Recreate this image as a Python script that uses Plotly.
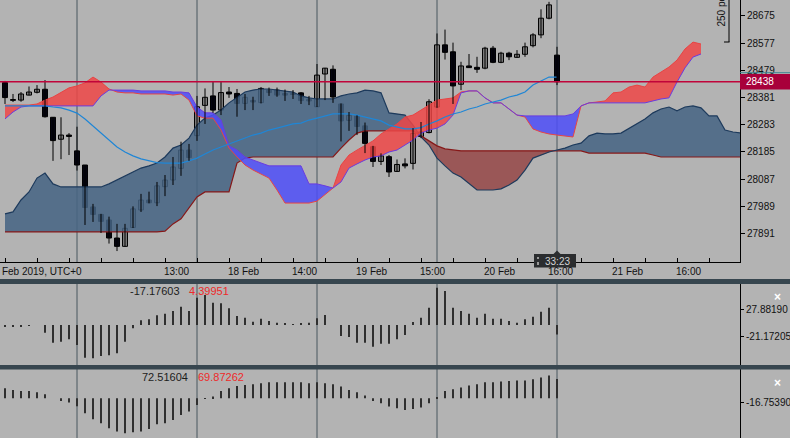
import plotly.graph_objects as go

W, H = 790, 438
BG = "#b3b3b3"
FONT = "Liberation Sans, Arial, sans-serif"

# ---------------- data ----------------
bar_idx = list(range(70))
opens = [28435, 28374, 28372, 28390, 28400, 28411, 28310, 28231, 28246, 28189,
         28138, 27987, 27960, 27940, 27875, 27845, 27913, 27976, 28012, 28002,
         28060, 28084, 28126, 28192, 28244, 28353, 28387, 28336, 28401, 28396,
         28360, 28371, 28363, 28408, 28408, 28396, 28396, 28398, 28374, 28348,
         28466, 28483, 28358, 28299, 28315, 28279, 28204, 28151, 28168, 28115,
         28142, 28144, 28241, 28255, 28347, 28571, 28546, 28429, 28495, 28490,
         28487, 28559, 28508, 28541, 28526, 28537, 28568, 28607, 28667, 28534]
highs = [28441, 28394, 28401, 28421, 28426, 28444, 28311, 28310, 28253, 28276,
         28138, 27998, 27962, 27952, 27926, 27926, 27989, 28034, 28042, 28077,
         28102, 28167, 28222, 28214, 28387, 28414, 28437, 28437, 28419, 28412,
         28394, 28384, 28419, 28417, 28417, 28410, 28408, 28401, 28387, 28502,
         28488, 28497, 28360, 28329, 28317, 28291, 28207, 28180, 28174, 28158,
         28162, 28271, 28293, 28375, 28612, 28626, 28579, 28510, 28538, 28528,
         28564, 28567, 28546, 28546, 28552, 28579, 28613, 28699, 28726, 28564]
lows = [28358, 28365, 28366, 28389, 28396, 28309, 28153, 28159, 28174, 28118,
        27922, 27933, 27893, 27855, 27828, 27843, 27911, 27969, 28000, 27990,
        28026, 28066, 28099, 28153, 28225, 28286, 28326, 28318, 28380, 28312,
        28336, 28336, 28360, 28387, 28384, 28369, 28376, 28358, 28354, 28347,
        28372, 28362, 28223, 28261, 28246, 28181, 28131, 28138, 28095, 28113,
        28126, 28122, 28235, 28252, 28344, 28518, 28358, 28408, 28488, 28470,
        28483, 28505, 28505, 28516, 28525, 28528, 28562, 28595, 28663, 28426]
closes = [28381, 28371, 28394, 28401, 28411, 28312, 28226, 28246, 28241, 28138,
          27985, 27960, 27935, 27875, 27845, 27910, 27980, 28012, 28002, 28063,
          28084, 28131, 28192, 28165, 28348, 28382, 28336, 28399, 28394, 28360,
          28382, 28365, 28414, 28399, 28390, 28390, 28392, 28370, 28369, 28462,
          28487, 28383, 28297, 28317, 28277, 28216, 28151, 28171, 28113, 28140,
          28135, 28252, 28257, 28366, 28571, 28544, 28423, 28495, 28489, 28483,
          28559, 28508, 28541, 28528, 28537, 28564, 28607, 28667, 28715, 28438]

moving_avg = [28351, 28351, 28351, 28351, 28351, 28351, 28347, 28344, 28336, 28325,
              28304, 28279, 28253, 28228, 28203, 28185, 28171, 28160, 28153, 28147,
              28145, 28145, 28145, 28153, 28163, 28178, 28192, 28203, 28214, 28225,
              28235, 28246, 28253, 28264, 28271, 28279, 28286, 28289, 28300, 28307,
              28315, 28322, 28322, 28322, 28318, 28311, 28304, 28297, 28282, 28275,
              28268, 28268, 28273, 28286, 28297, 28311, 28322, 28329, 28340, 28347,
              28358, 28365, 28372, 28383, 28390, 28401, 28426, 28441, 28455, 28455]

# upper (red / blue) cloud
span_a = [28354, 28354, 28354, 28354, 28358, 28372, 28383, 28401, 28416, 28423,
          28434, 28455, 28437, 28412, 28401, 28398, 28398, 28394, 28394, 28394,
          28394, 28390, 28394, 28372, 28315, 28307, 28307, 28264, 28199, 28167,
          28138, 28120, 28106, 28091, 28048, 28001, 28001, 28001, 28001, 28008,
          28030, 28055, 28138, 28174, 28192, 28207, 28225, 28250, 28268, 28286,
          28311, 28318, 28336, 28354, 28372, 28376, 28380, 28401, 28405, 28405,
          28380, 28362, 28362, 28340, 28318, 28311, 28268, 28257, 28250, 28246,
          28243, 28239, 28351, 28362, 28365, 28369, 28398, 28401, 28419, 28426,
          28419, 28455, 28473, 28491, 28516, 28556, 28581, 28574]
span_b = [28304, 28329, 28347, 28351, 28351, 28351, 28351, 28351, 28351, 28351,
          28351, 28351, 28387, 28408, 28408, 28408, 28408, 28405, 28405, 28405,
          28405, 28401, 28401, 28398, 28347, 28326, 28326, 28300, 28207, 28192,
          28167, 28156, 28145, 28135, 28135, 28135, 28135, 28135, 28070, 28070,
          28063, 28055, 28077, 28127, 28142, 28156, 28167, 28171, 28185, 28192,
          28210, 28228, 28253, 28264, 28271, 28286, 28318, 28398, 28405, 28405,
          28380, 28362, 28362, 28340, 28318, 28315, 28315, 28315, 28315, 28315,
          28315, 28322, 28351, 28362, 28362, 28362, 28362, 28362, 28362, 28362,
          28362, 28369, 28376, 28380, 28437, 28488, 28527, 28538]

# lower (steel / brown) cloud
cloud_c = [27962, 27969, 28012, 28041, 28091, 28109, 28070, 28059, 28059, 28059,
           28059, 28059, 28059, 28070, 28084, 28099, 28113, 28127, 28135, 28145,
           28167, 28199, 28210, 28235, 28282, 28307, 28318, 28336, 28362, 28383,
           28401, 28408, 28412, 28412, 28408, 28405, 28401, 28387, 28380, 28376,
           28376, 28376, 28387, 28394, 28398, 28408, 28405, 28398, 28326, 28322,
           28318, 28282, 28239, 28210, 28163, 28135, 28109, 28095, 28073, 28048,
           28048, 28048, 28052, 28066, 28084, 28120, 28163, 28174, 28185, 28192,
           28199, 28210, 28217, 28243, 28253, 28250, 28250, 28253, 28271, 28289,
           28304, 28326, 28340, 28347, 28333, 28347, 28351, 28344, 28315, 28315,
           28264, 28257, 28253]
cloud_d = [27897] * 20 + [27900, 27926, 27944, 27983, 28023, 28041, 28041, 28041, 28041,
           28145, 28163] + [28167] * 11 + [28199, 28228, 28253] + [28261] * 7 + \
          [28243, 28225, 28207, 28196, 28192] + [28189] * 16 + [28181] * 8 + \
          [28174] + [28167] * 11

osc1 = [-1.8, -1.8, -1.8, -0.9, 0, -13.8, -31.7, -29.9, -25.6, -35.8,
        -58.5, -59.6, -55.5, -54.2, -50.7, -29.9, -5.9, 8.4, 10.2, 17.4,
        20.2, 25.1, 32.8, 25.1, 48.9, 53.7, 39.9, 38.8, 29.9, 16.1,
        13.1, 5.9, 11.3, 7.2, 4.1, 2.3, 1.3, 2.3, 4.1, 12.0,
        17.9, 0, -19.7, -21.5, -31.7, -31.7, -38.8, -33.5, -33.5, -25.6,
        -17.9, 5.4, 13.1, 31.0, 66.8, 60.9, 31.0, 25.1, 20.2, 13.1,
        20.2, 11.3, 11.3, 7.2, 4.1, 10.2, 14.9, 23.8, 31.0, -17.18]
osc2 = [37.5, 31.1, 27.4, 27.4, 22.5, 15.0, 0, -10.1, -16.1, -30.0,
        -56.3, -78.8, -93.8, -112.5, -124.9, -131.3, -127.5, -124.9, -115.1, -97.5,
        -93.8, -81.4, -62.6, -49.9, -25.1, -2.6, 6.4, 27.4, 37.5, 46.1,
        49.9, 52.5, 56.3, 60.0, 60.0, 60.0, 60.0, 60.0, 56.3, 60.0,
        56.3, 52.5, 43.9, 31.1, 22.5, 10.1, -10.1, -18.8, -31.1, -37.5,
        -43.9, -40.1, -34.9, -18.8, 3.8, 27.4, 33.8, 40.1, 47.6, 52.5,
        60.0, 60.0, 62.6, 64.9, 66.4, 66.4, 71.3, 77.6, 85.1, 72.52]

price_ticks = [28675, 28577, 28479, 28381, 28283, 28185, 28087, 27989, 27891]
osc1_ticks = [27.88190, -21.17205]
osc2_ticks = [-16.75390]
time_tick_idx = [20, 28, 36, 44, 52, 60, 68, 76, 84]
time_tick_labels = ["13:00", "18 Feb", "14:00", "19 Feb", "15:00", "20 Feb", "16:00", "21 Feb", "16:00"]
first_label = "17 Feb 2019, UTC+0"
period_idx = [9, 24, 39, 54, 69]
last_price = 28438
osc1_labels = ("-17.17603", "4.39951")
osc2_labels = ("72.51604", "69.87262")
timer_text = "33:23"


def px(x):
    return x / W


def py(y):
    return 1 - y / H


def band_polys(xs, up, dn):
    pts = []
    n = len(xs)
    for k in range(n):
        pts.append((xs[k], up[k], dn[k]))
        if k < n - 1:
            d0 = up[k] - dn[k]
            d1 = up[k + 1] - dn[k + 1]
            if d0 * d1 < 0:
                t = d0 / (d0 - d1)
                xc = xs[k] + t * (xs[k + 1] - xs[k])
                yc = up[k] + t * (up[k + 1] - up[k])
                pts.append((xc, yc, yc))
    d = pts[0][1] - pts[0][2]
    sgn = (d > 0) - (d < 0)
    runs, cur = [], [pts[0]]
    for p in pts[1:]:
        cur.append(p)
        d = p[1] - p[2]
        if d == 0:
            runs.append((sgn, cur))
            cur, sgn = [p], 0
        elif sgn == 0:
            sgn = 1 if d > 0 else -1
    runs.append((sgn, cur))
    out = {1: ([], []), -1: ([], [])}
    for s, run in runs:
        if s == 0 or len(run) < 2:
            continue
        xx = [p[0] for p in run] + [p[0] for p in reversed(run)]
        yy = [p[1] for p in run] + [p[2] for p in reversed(run)]
        out[s][0].extend(xx + [None])
        out[s][1].extend(yy + [None])
    return out


fig = go.Figure()

# lower cloud
ci = list(range(len(cloud_c)))
polys = band_polys(ci, cloud_c, cloud_d)
for s, col in ((1, "rgba(70,100,132,0.86)"), (-1, "rgba(150,72,72,0.86)")):
    fig.add_trace(go.Scatter(x=polys[s][0], y=polys[s][1], fill="toself", fillcolor=col,
                             mode="lines", line=dict(width=0), hoverinfo="skip"))
fig.add_trace(go.Scatter(x=ci, y=cloud_d, mode="lines", line=dict(color="#861818", width=1.2)))
fig.add_trace(go.Scatter(x=ci, y=cloud_c, mode="lines", line=dict(color="#1d3a5c", width=1.2)))

# upper cloud
ai = list(range(len(span_a)))
polys = band_polys(ai, span_a, span_b)
for s, col in ((1, "rgba(238,70,70,0.85)"), (-1, "rgba(78,78,248,0.85)")):
    fig.add_trace(go.Scatter(x=polys[s][0], y=polys[s][1], fill="toself", fillcolor=col,
                             mode="lines", line=dict(width=0), hoverinfo="skip"))
fig.add_trace(go.Scatter(x=ai, y=span_a, mode="lines", line=dict(color="#e84444", width=1)))
fig.add_trace(go.Scatter(x=ai, y=span_b, mode="lines", line=dict(color="#6a3ce0", width=1)))

# moving average
fig.add_trace(go.Scatter(x=bar_idx, y=moving_avg, mode="lines", line=dict(color="#1f86d6", width=1.2)))

# candles: wicks
wx, wy = [], []
for i, h, l in zip(bar_idx, highs, lows):
    wx += [i, i, None]
    wy += [l, h, None]
fig.add_trace(go.Scatter(x=wx, y=wy, mode="lines", line=dict(color="#000000", width=1)))
# candle bodies
up_x, up_b, up_h, dn_x, dn_b, dn_h = [], [], [], [], [], []
for i, o, c in zip(bar_idx, opens, closes):
    if c >= o:
        up_x.append(i); up_b.append(o); up_h.append(c - o)
    else:
        dn_x.append(i); dn_b.append(c); dn_h.append(o - c)
fig.add_trace(go.Bar(x=up_x, y=up_h, base=up_b, width=0.62, marker=dict(color="#7d7d7d", line=dict(color="#000", width=1))))
fig.add_trace(go.Bar(x=dn_x, y=dn_h, base=dn_b, width=0.62, marker=dict(color="#050510", line=dict(color="#000", width=1))))

# oscillators
fig.add_trace(go.Bar(x=bar_idx, y=osc1, width=0.24, marker=dict(color="#2f2f2f", line=dict(width=0)),
                     xaxis="x2", yaxis="y2"))
fig.add_trace(go.Bar(x=bar_idx, y=osc2, width=0.24, marker=dict(color="#2f2f2f", line=dict(width=0)),
                     xaxis="x3", yaxis="y3"))

XR = [-0.625, 91.875]
XD = [0, 740 / W]
tfont = dict(family=FONT, size=10, color="#111")
fig.update_layout(
    width=W, height=H, margin=dict(l=0, r=0, t=0, b=0, pad=0, autoexpand=False),
    paper_bgcolor=BG, plot_bgcolor=BG, showlegend=False, barmode="overlay",
    xaxis=dict(domain=XD, range=XR, anchor="y", showgrid=False, zeroline=False, automargin=False,
               showline=True, linecolor="#000", linewidth=1, ticks="inside", ticklen=4,
               tickcolor="#000", tickvals=list(range(0, 92, 4)), showticklabels=False),
    yaxis=dict(domain=[py(262), 1], range=[27788.6, 28732.6], side="right", anchor="x", automargin=False,
               showgrid=False, zeroline=False, showline=True, linecolor="#000", linewidth=1,
               ticks="outside", ticklen=4, tickcolor="#000", tickvals=price_ticks,
               ticktext=[str(v) for v in price_ticks], tickfont=tfont),
    xaxis2=dict(domain=XD, range=XR, anchor="y2", visible=False, automargin=False),
    yaxis2=dict(domain=[py(365), py(284)], range=[-71.6, 73.4], side="right", anchor="x2", automargin=False,
                showgrid=False, zeroline=False, showline=True, linecolor="#000", linewidth=1,
                ticks="outside", ticklen=3, tickcolor="#000", tickvals=osc1_ticks,
                ticktext=["%.5f" % v for v in osc1_ticks], tickfont=tfont),
    xaxis3=dict(domain=XD, range=XR, anchor="y3", visible=False, automargin=False),
    yaxis3=dict(domain=[0, py(369)], range=[-148.9, 109.9], side="right", anchor="x3", automargin=False,
                showgrid=False, zeroline=False, showline=True, linecolor="#000", linewidth=1,
                ticks="outside", ticklen=3, tickcolor="#000", tickvals=osc2_ticks,
                ticktext=["%.5f" % v for v in osc2_ticks], tickfont=tfont),
)

shapes = []
# period separators
for yr in ("y domain", "y2 domain", "y3 domain"):
    for i in period_idx:
        shapes.append(dict(type="line", xref="x", yref=yr, x0=i, x1=i, y0=0, y1=1,
                           line=dict(color="#48565f", width=1), layer="below"))
# panel separators
shapes.append(dict(type="rect", xref="paper", yref="paper", x0=0, x1=1, y0=py(284), y1=py(279),
                   fillcolor="#37464f", line=dict(width=0)))
shapes.append(dict(type="rect", xref="paper", yref="paper", x0=0, x1=1, y0=py(369.5), y1=py(365),
                   fillcolor="#37464f", line=dict(width=0)))
# price line
shapes.append(dict(type="line", xref="paper", yref="y", x0=0, x1=740 / W, y0=last_price, y1=last_price,
                   line=dict(color="#c0043a", width=1.5)))
shapes.append(dict(type="line", xref="paper", yref="paper", x0=740 / W, x1=1, y0=py(72.7), y1=py(72.7),
                   line=dict(color="#3f8490", width=1)))
shapes.append(dict(type="rect", xref="paper", yref="paper", x0=740 / W, x1=1, y0=py(89.5), y1=py(74),
                   fillcolor="#a8003a", line=dict(width=0)))
# points scale bracket
shapes.append(dict(type="line", xref="paper", yref="paper", x0=px(729), x1=px(729), y0=py(0), y1=py(42),
                   line=dict(color="#000", width=1)))
shapes.append(dict(type="line", xref="paper", yref="paper", x0=px(724), x1=px(729.5), y0=py(42), y1=py(42),
                   line=dict(color="#000", width=1)))
# timer box
shapes.append(dict(type="rect", xref="paper", yref="paper", x0=px(534), x1=px(576), y0=py(267.5), y1=py(254),
                   fillcolor="#2b2d2f", line=dict(width=0)))
shapes.append(dict(type="path", xref="paper", yref="paper",
                   path="M %f,%f L %f,%f L %f,%f Z" % (px(553.5), py(254), px(557), py(250.5), px(560.5), py(254)),
                   fillcolor="#2b2d2f", line=dict(width=0)))
shapes.append(dict(type="line", xref="paper", yref="paper", x0=px(538), x1=px(538), y0=py(265), y1=py(257),
                   line=dict(color="#9a9a9a", width=2, dash="dot")))
fig.update_layout(shapes=shapes)

ann = []
ty = py(271.5)
for i, lab in zip(time_tick_idx, time_tick_labels):
    ann.append(dict(x=i, y=ty, xref="x", yref="paper", text=lab, showarrow=False, xanchor="left",
                    yanchor="middle", xshift=-3, font=tfont))
ann.append(dict(x=px(-14), y=ty, xref="paper", yref="paper", text=first_label, showarrow=False,
                xanchor="left", yanchor="middle", font=tfont))
ann.append(dict(x=px(744), y=py(81.8), xref="paper", yref="paper", text=str(last_price), showarrow=False,
                xanchor="left", yanchor="middle", font=dict(family=FONT, size=10, color="#ffffff")))
ann.append(dict(x=px(721.5), y=py(29), xref="paper", yref="paper", text="250 points", textangle=-90,
                showarrow=False, xanchor="center", yanchor="bottom", font=tfont))
ann.append(dict(x=px(557.5), y=py(261), xref="paper", yref="paper", text=timer_text, showarrow=False,
                xanchor="center", yanchor="middle", font=dict(family=FONT, size=10, color="#d4d4d4")))
ann.append(dict(x=px(182), y=py(291), xref="paper", yref="paper", text=osc1_labels[0], showarrow=False,
                xanchor="right", yanchor="middle", font=dict(family=FONT, size=11, color="#1c1c1c")))
ann.append(dict(x=px(187), y=py(291), xref="paper", yref="paper", text=osc1_labels[1], showarrow=False,
                xanchor="left", yanchor="middle", font=dict(family=FONT, size=11, color="#ee2a2a")))
ann.append(dict(x=px(190), y=py(377), xref="paper", yref="paper", text=osc2_labels[0], showarrow=False,
                xanchor="right", yanchor="middle", font=dict(family=FONT, size=11, color="#1c1c1c")))
ann.append(dict(x=px(195.5), y=py(377), xref="paper", yref="paper", text=osc2_labels[1], showarrow=False,
                xanchor="left", yanchor="middle", font=dict(family=FONT, size=11, color="#ee2a2a")))
for yy in (297, 383):
    ann.append(dict(x=px(777.5), y=py(yy), xref="paper", yref="paper", text="<b>×</b>", showarrow=False,
                    xanchor="center", yanchor="middle", font=dict(family=FONT, size=12, color="#ffffff")))
fig.update_layout(annotations=ann)

fig.write_html("out.html", config={"displayModeBar": False},
               post_script="document.body.style.margin='0px';document.body.style.overflow='hidden';")
